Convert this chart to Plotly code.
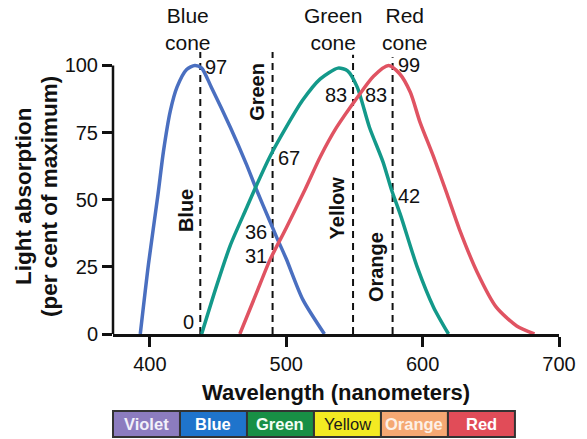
import plotly.graph_objects as go

FONT = "Liberation Sans, Arial, Helvetica, sans-serif"

# ---- data ----
blue_wl = [393, 399, 406, 410, 415, 420, 427, 433, 438, 445, 459, 471, 478, 488, 493, 500, 512, 528]
blue_val = [0, 26, 52, 68, 83, 92, 98.5, 100, 99, 92, 77, 63, 54, 42, 36, 28, 13, 0]

green_wl = [438, 449, 459, 471, 477, 488, 500, 512, 525, 538, 545, 552, 561, 571, 577, 584, 596, 608, 619]
green_val = [0, 18, 33, 47, 54, 66, 77, 87, 95, 99, 98, 92, 77, 64, 54, 44, 25, 10, 0]

red_wl = [466, 478, 488, 500, 514, 525, 537, 552, 564, 575, 583, 591, 598, 608, 618, 627, 640, 654, 669, 682]
red_val = [0, 15, 27.5, 39.5, 54, 66, 77, 88, 96, 100, 97, 90, 79, 66, 52, 39, 23, 10, 3, 0]

# dashed reference lines (wavelength, top value)
line_wl = [437, 490, 549, 578]
line_top = [105, 105, 104, 103]

# rotated colour names next to the dashed lines
name_text = ["Blue", "Green", "Yellow", "Orange"]
name_wl = [427, 479, 537, 566]
name_val = [46, 90, 47, 25]

# value labels: text, wavelength of line, value position, side
val_text = ["97", "0", "67", "36", "31", "83", "83", "99", "42"]
val_wl = [437, 437, 490, 490, 490, 549, 578, 578, 578]
val_y = [99.5, 4.5, 65.5, 38, 29, 89, 89, 100, 51.5]
val_side = ["right", "left", "right", "left", "left", "left", "left", "right", "right"]

cone_text = ["Blue<br>cone", "Green<br>cone", "Red<br>cone"]
cone_wl = [428, 534, 587]

x_ticks = [400, 500, 600, 700]
y_ticks = [0, 25, 50, 75, 100]

band_names = ["Violet", "Blue", "Green", "Yellow", "Orange", "Red"]
band_colors = ["#8c7cbf", "#1f74cc", "#188f45", "#f3ea22", "#f5a873", "#e14c58"]
band_text_colors = ["#f2f0fa", "#ffffff", "#f4fff6", "#1a1a1a", "#fdf0e6", "#ffffff"]

fig = go.Figure()

for wl, top in zip(line_wl, line_top):
    fig.add_trace(go.Scatter(x=[wl, wl], y=[0, top], mode="lines",
                             line=dict(color="#111111", width=2, dash="7px,5px"),
                             hoverinfo="skip", showlegend=False))

for wl, val, col in [(blue_wl, blue_val, "#4a6fc0"),
                     (green_wl, green_val, "#13998a"),
                     (red_wl, red_val, "#e05362")]:
    fig.add_trace(go.Scatter(x=wl, y=val, mode="lines",
                             line=dict(color=col, width=3.5, shape="spline", smoothing=0.7),
                             showlegend=False, hoverinfo="skip"))

annotations = []
for t, x, y in zip(name_text, name_wl, name_val):
    annotations.append(dict(x=x, y=y, xref="x", yref="y", text="<b>%s</b>" % t,
                            textangle=-90, showarrow=False, xanchor="center", yanchor="middle",
                            font=dict(family=FONT, size=20, color="#111111")))
for t, x, y, s in zip(val_text, val_wl, val_y, val_side):
    annotations.append(dict(x=x, y=y, xref="x", yref="y", text=t, showarrow=False,
                            xanchor="left" if s == "right" else "right", yanchor="middle",
                            xshift=3 if s == "right" else -4,
                            font=dict(family=FONT, size=20, color="#111111")))
for t, x in zip(cone_text, cone_wl):
    annotations.append(dict(x=x, y=1.08, xref="x", yref="paper", text=t, showarrow=False,
                            xanchor="center", yanchor="middle",
                            font=dict(family=FONT, size=21, color="#111111")))

annotations.append(dict(x=0.5, y=-0.206, xref="paper", yref="paper",
                        text="<b>Wavelength (nanometers)</b>", showarrow=False,
                        xanchor="center", yanchor="middle",
                        font=dict(family=FONT, size=22, color="#111111")))
for t, xp in [("Light absorption", -0.202), ("(per cent of maximum)", -0.1435)]:
    annotations.append(dict(x=xp, y=0.489, xref="paper", yref="paper", textangle=-90,
                            text="<b>%s</b>" % t, showarrow=False,
                            xanchor="center", yanchor="middle",
                            font=dict(family=FONT, size=22.5, color="#111111")))

shapes = []
# y axis line from 0 to 100
shapes.append(dict(type="line", xref="paper", yref="y", x0=0, x1=0, y0=0, y1=100,
                   line=dict(color="#111111", width=2.5)))

seg_w = 0.1502
y0b, y1b = -0.273, -0.365
for i, (n, c, tc) in enumerate(zip(band_names, band_colors, band_text_colors)):
    shapes.append(dict(type="rect", xref="paper", yref="paper",
                       x0=i * seg_w, x1=(i + 1) * seg_w, y0=y0b, y1=y1b,
                       fillcolor=c, line=dict(color="#333333", width=2)))
    label = n if n == "Yellow" else "<b>%s</b>" % n
    annotations.append(dict(x=(i + 0.5) * seg_w, y=(y0b + y1b) / 2, xref="paper", yref="paper",
                            text=label, showarrow=False,
                            xanchor="center", yanchor="middle",
                            font=dict(family=FONT, size=16.5, color=tc)))

fig.update_layout(
    width=587, height=439,
    margin=dict(l=113, r=28, t=52, b=105),
    plot_bgcolor="white", paper_bgcolor="white",
    annotations=annotations, shapes=shapes,
    xaxis=dict(range=[373, 700], tickvals=x_ticks, ticks="outside", ticklen=10, tickwidth=2.5,
               tickcolor="#111111", showline=True, linewidth=2.5, linecolor="#111111",
               showgrid=False, zeroline=False,
               tickfont=dict(family=FONT, size=20, color="#111111")),
    yaxis=dict(range=[0, 105], tickvals=y_ticks, ticks="outside", ticklen=10, tickwidth=2.5,
               tickcolor="#111111", showline=False, showgrid=False, zeroline=False,
               tickfont=dict(family=FONT, size=20, color="#111111")),
)

# remove the default 8px page margin so the figure fills the window exactly
fig.write_html("out.html", config={"displayModeBar": False},
               post_script="document.body.style.margin='0';document.body.style.overflow='hidden';")
